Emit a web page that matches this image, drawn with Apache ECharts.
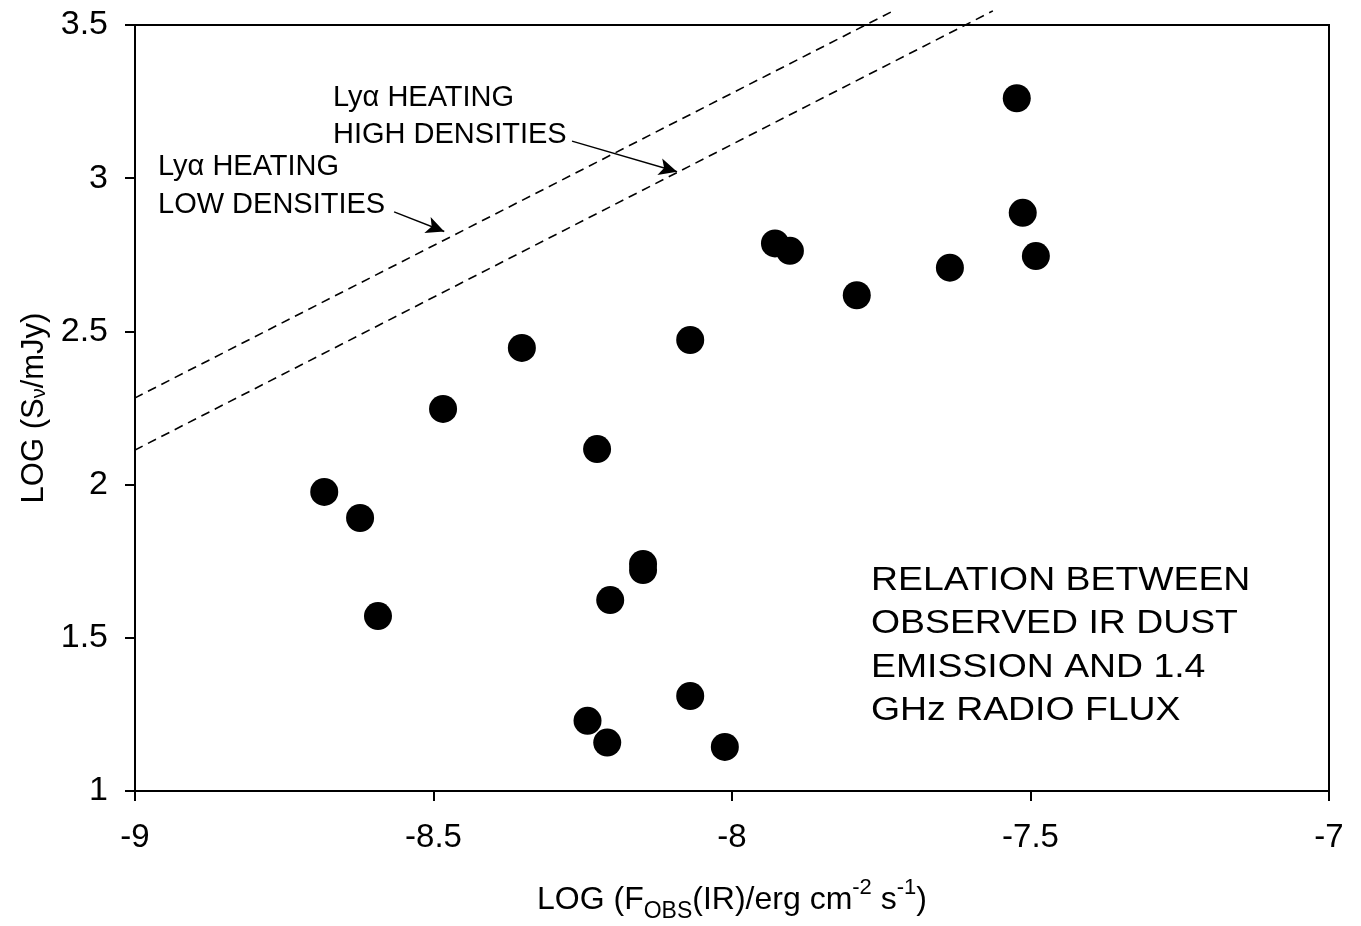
<!DOCTYPE html>
<html>
<head>
<meta charset="utf-8">
<script src="https://cdn.jsdelivr.net/npm/echarts@6/dist/echarts.min.js"></script>
<style>html,body{margin:0;padding:0;background:#fff;}#c{width:1361px;height:926px;}</style>
</head>
<body>
<div id="c"></div>
<script>
// Observed points: log F_obs(IR) vs log S_nu
const irFlux = [-7.523, -7.513, -7.491, -7.635, -7.791, -7.928, -7.903, -8.070, -8.352, -8.484, -8.226, -8.683, -8.623, -8.593, -8.149, -8.149, -8.204, -8.070, -8.242, -8.209, -8.012];
const radioFlux = [3.261, 2.887, 2.746, 2.708, 2.618, 2.787, 2.763, 2.472, 2.446, 2.247, 2.116, 1.976, 1.891, 1.571, 1.741, 1.721, 1.623, 1.310, 1.229, 1.158, 1.144];
// Ly-alpha heating lines (endpoints)
const lowDensX = [-9.023, -7.730];
const lowDensY = [2.260, 3.546];
const highDensX = [-9.023, -7.563];
const highDensY = [2.090, 3.546];
// Annotation arrows [start, end]
const arrowLow = [[-8.566, 2.890], [-8.482, 2.826]];
const arrowHigh = [[-8.268, 3.121], [-8.092, 3.021]];
const xTicks = [-9, -8.5, -8, -7.5, -7];
const yTicks = [1, 1.5, 2, 2.5, 3, 3.5];

const FONT = '"Liberation Sans", Arial, sans-serif';
const chart = echarts.init(document.getElementById('c'), null, {renderer: 'canvas'});

const pts = irFlux.map((x, i) => [x, radioFlux[i]]);
const lowLine = lowDensX.map((x, i) => [x, lowDensY[i]]);
const highLine = highDensX.map((x, i) => [x, highDensY[i]]);

const txt = {fontFamily: FONT, color: '#000'};

chart.setOption({
  animation: false,
  backgroundColor: '#fff',
  grid: {left: 135, right: 32, top: 25, bottom: 135, outerBoundsMode: 'none', containLabel: false,
         show: true, borderColor: '#000', borderWidth: 2, backgroundColor: 'transparent'},
  xAxis: {
    type: 'value', min: -9, max: -7, interval: 0.5,
    splitLine: {show: false},
    axisLine: {lineStyle: {color: '#000', width: 2}},
    axisTick: {show: true, length: 10, inside: false, lineStyle: {color: '#000', width: 2}},
    axisLabel: {margin: 30, fontSize: 33, ...txt, formatter: v => xTicks.includes(v) ? String(v) : ''},
    name: '{n|LOG (F}{s|OBS}{n|(IR)/erg cm}{p|-2}{n| s}{p|-1}{n|)}',
    nameLocation: 'middle', nameGap: 86,
    nameTextStyle: {rich: {
      n: {fontSize: 32, fontFamily: FONT, color: '#000', lineHeight: 36},
      s: {fontSize: 23, fontFamily: FONT, color: '#000', verticalAlign: 'bottom', lineHeight: 18},
      p: {fontSize: 22, fontFamily: FONT, color: '#000', verticalAlign: 'top', lineHeight: 46}
    }}
  },
  yAxis: {
    type: 'value', min: 1, max: 3.5, interval: 0.5,
    splitLine: {show: false},
    axisLine: {lineStyle: {color: '#000', width: 2}},
    axisTick: {show: true, length: 10, inside: false, lineStyle: {color: '#000', width: 2}},
    axisLabel: {margin: 27, fontSize: 34, ...txt, formatter: v => yTicks.includes(v) ? String(v) : ''},
    name: '{n|LOG (S}{s|ν}{n|/mJy)}',
    nameLocation: 'middle', nameGap: 74,
    nameTextStyle: {rich: {
      n: {fontSize: 31, fontFamily: FONT, color: '#000'},
      s: {fontSize: 20, fontFamily: FONT, color: '#000', verticalAlign: 'bottom', lineHeight: 14}
    }}
  },
  series: [
    {
      type: 'line', data: lowLine, clip: false, symbol: 'none', silent: true,
      lineStyle: {color: '#000', width: 1.6, type: [9, 6]}
    },
    {
      type: 'line', data: highLine, clip: false, symbol: 'none', silent: true,
      lineStyle: {color: '#000', width: 1.6, type: [9, 6]},
      markLine: {
        silent: true, symbol: ['none', 'arrow'], symbolSize: [13, 18],
        label: {show: false},
        lineStyle: {color: '#000', width: 1.4, type: 'solid'},
        data: [
          [{coord: arrowLow[0]}, {coord: arrowLow[1]}],
          [{coord: arrowHigh[0]}, {coord: arrowHigh[1]}]
        ]
      }
    },
    {
      type: 'scatter', data: pts, symbol: 'circle', symbolSize: 28,
      itemStyle: {color: '#000', opacity: 1}
    }
  ],
  graphic: [
    {type: 'text', x: 333, y: 79, style: {text: 'Lyα HEATING\nHIGH DENSITIES', font: '29px ' + FONT, fill: '#000', lineHeight: 37}},
    {type: 'text', x: 158, y: 148, style: {text: 'Lyα HEATING\nLOW DENSITIES', font: '29px ' + FONT, fill: '#000', lineHeight: 38}},
    {type: 'text', x: 871, y: 559, scaleX: 1.15, style: {text: 'RELATION BETWEEN\nOBSERVED IR DUST\nEMISSION AND 1.4\nGHz RADIO FLUX', font: '32.5px ' + FONT, fill: '#000', lineHeight: 43.5}}
  ]
});
</script>
</body>
</html>
